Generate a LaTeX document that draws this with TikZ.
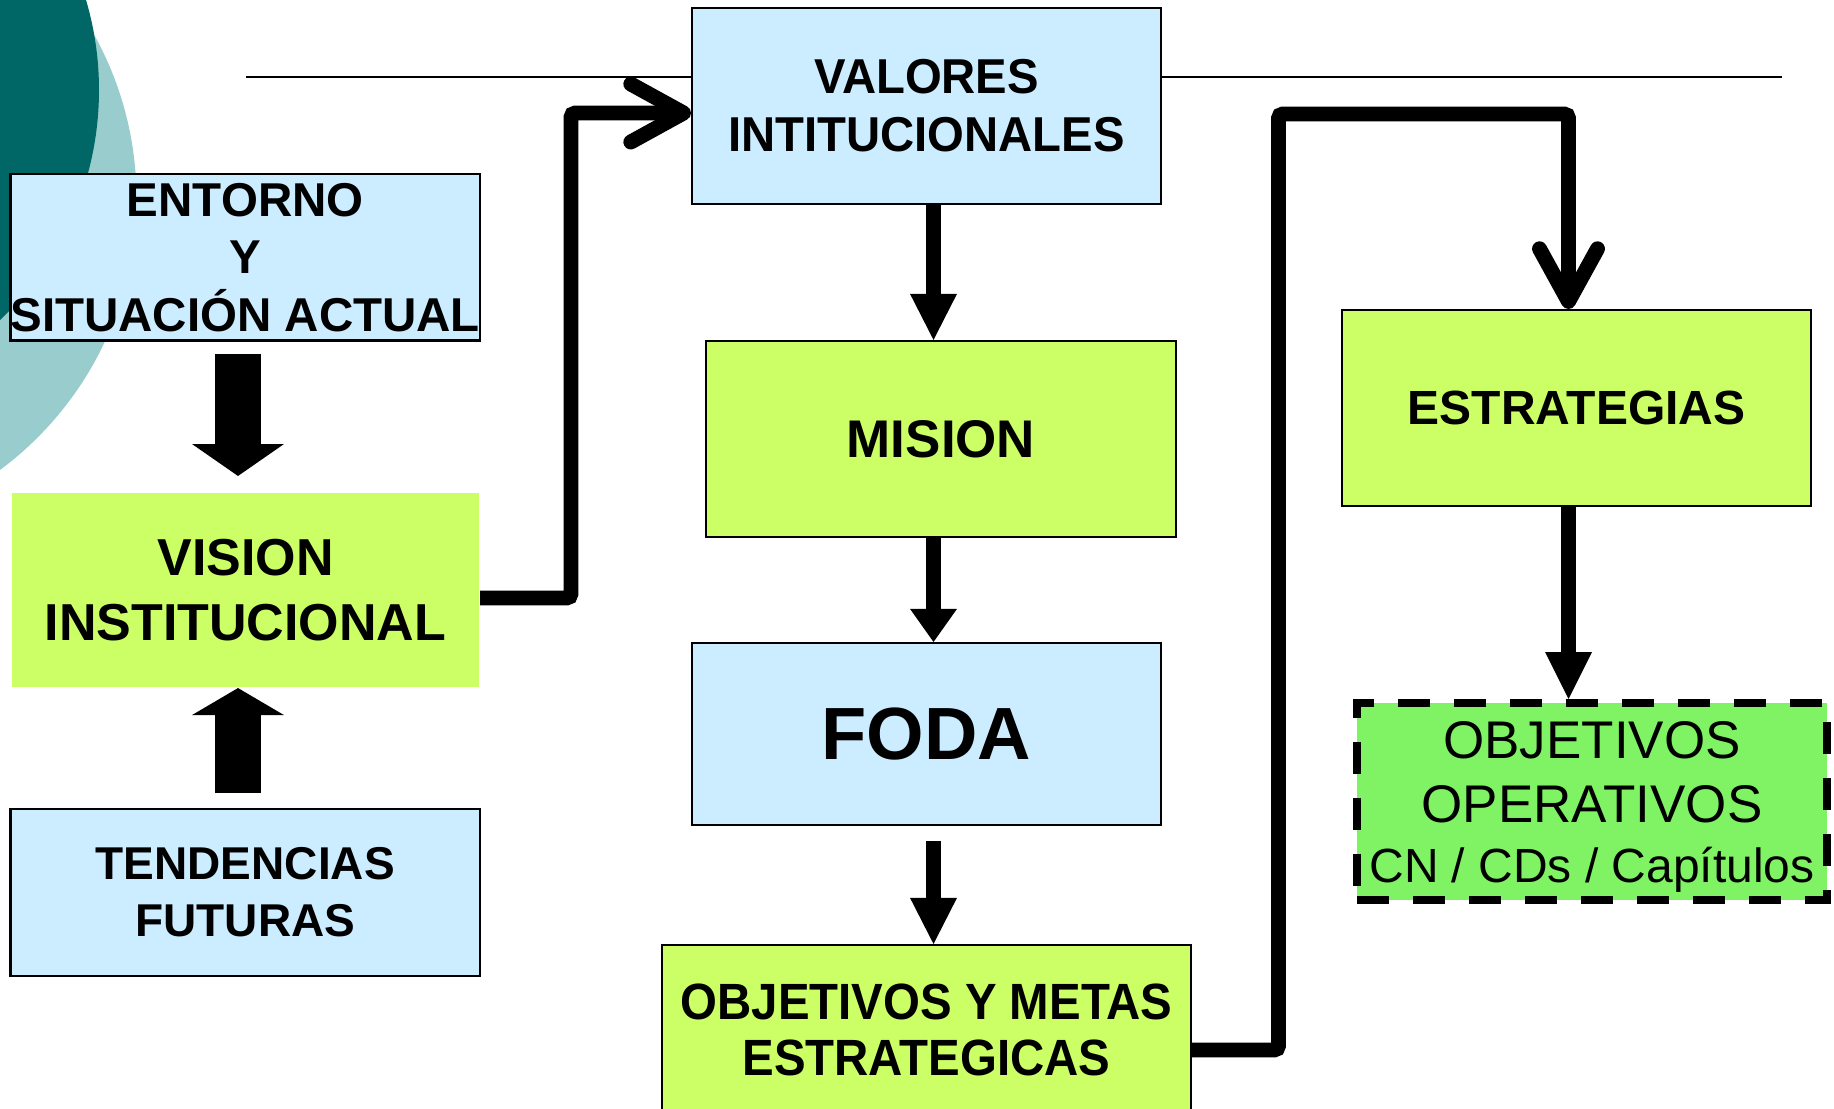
\documentclass[tikz,border=0pt]{standalone}
\usepackage{fontspec}
\setmainfont{Liberation Sans}
\newfontfamily\narrowA[FakeStretch=0.965]{Liberation Sans}
\newfontfamily\narrowB[FakeStretch=0.93]{Liberation Sans}
\usetikzlibrary{arrows.meta}
\definecolor{boxblue}{RGB}{204,236,255}
\definecolor{boxgreen}{RGB}{204,255,102}
\definecolor{opgreen}{RGB}{128,243,100}
\definecolor{tealdark}{RGB}{0,102,102}
\definecolor{teallight}{RGB}{153,204,204}
\begin{document}
\begin{tikzpicture}[x=0.02cm, y=-0.02cm,
  box/.style={rectangle, inner sep=0pt, align=center, draw=black, line width=1.2pt},
  bluebox/.style={box, fill=boxblue},
  greenbox/.style={box, fill=boxgreen},
  opbox/.style={rectangle, inner sep=0pt, align=center, draw=black, line width=4.55pt,
     dash pattern=on 18.2pt off 13.66pt, fill=opgreen},
  blockarrow/.style={line width=26.7pt, -{Triangle[width=52.4pt,length=#1,line width=0pt]}},
  solidarrow/.style={line width=8.5pt, -{Triangle[width=26.7pt,length=#1,line width=0pt]}},
  elbowarrow/.style={line width=8.5pt, rounded corners=2.5pt, -{Straight Barb[length=30pt,width=33pt,round]}}
]
\useasboundingbox (0,0) rectangle (1834,1108);
\clip (0,0) rectangle (1834,1108);

% background circles
\fill[teallight] (-201.3,198.7) circle[radius=337.8];
\fill[tealdark] (-217.7,90) circle[radius=316.7];

% header rule
\draw[line width=1.7pt] (246,77) -- (1782,77);

% boxes
\node[bluebox, minimum width=9.39cm, minimum height=3.33cm,
      font=\fontsize{27.03pt}{32.72pt}\selectfont\bfseries]
  (entorno) at (245.25,257.25) {ENTORNO\\Y\\SITUACIÓN ACTUAL};
\node[greenbox, draw=none, minimum width=9.34cm, minimum height=3.88cm,
      font=\fontsize{29.59pt}{36.99pt}\selectfont\bfseries]
  (vision) at (245.5,590) {VISION\\INSTITUCIONAL};
\node[bluebox, minimum width=9.39cm, minimum height=3.34cm,
      font=\fontsize{26.18pt}{32.44pt}\selectfont\bfseries]
  (tendencias) at (245.25,892.5) {TENDENCIAS\\FUTURAS};
\node[bluebox, minimum width=9.38cm, minimum height=3.92cm,
      font=\narrowA\fontsize{27.88pt}{33pt}\selectfont\bfseries]
  (valores) at (926.5,106) {VALORES\\INTITUCIONALES};
\node[greenbox, minimum width=9.40cm, minimum height=3.92cm,
      font=\fontsize{30.16pt}{36pt}\selectfont\bfseries]
  (mision) at (941,439) {MISION};
\node[bluebox, minimum width=9.38cm, minimum height=3.64cm,
      font=\fontsize{42.11pt}{50pt}\selectfont\bfseries]
  (foda) at (926.5,734) {FODA};
\node[greenbox, minimum width=10.58cm, minimum height=3.40cm,
      font=\narrowB\fontsize{29.02pt}{31.87pt}\selectfont\bfseries]
  (objmetas) at (926.5,1030) {OBJETIVOS Y METAS\\ESTRATEGICAS};
\node[greenbox, minimum width=9.38cm, minimum height=3.92cm,
      font=\fontsize{27.31pt}{33pt}\selectfont\bfseries]
  (estrategias) at (1576.5,408) {ESTRATEGIAS};
\node[opbox, minimum width=9.40cm, minimum height=3.94cm, text depth=0pt,
      font=\fontsize{30.16pt}{36.99pt}\selectfont]
  (objop) at (1592,801.5) {OBJETIVOS\\OPERATIVOS\\[-3.4pt]{\fontsize{27.31pt}{33pt}\selectfont CN / CDs / Capítulos}};

% helper coordinates
\coordinate (xa) at (238,0);
\coordinate (xm) at (933.5,0);
\coordinate (xs) at (1568.5,0);
\coordinate (v1) at (571,598);
\coordinate (v2) at (571,113);
\coordinate (o1) at (1278.5,1050);
\coordinate (o2) at (1278.5,114);
\coordinate (o3) at (1568.5,114);

% block arrows
\draw[blockarrow=18.2pt, shorten <=7.1pt, shorten >=9.1pt] (entorno.south -| xa) -- (vision.north -| xa);
\draw[blockarrow=15.4pt, shorten <=8.5pt] (tendencias.north -| xa) -- (vision.south -| xa);

% straight arrows
\draw[solidarrow=26.2pt] (valores.south -| xm) -- (mision.north -| xm);
\draw[solidarrow=18.8pt] (mision.south -| xm) -- (foda.north -| xm);
\draw[solidarrow=26.2pt, shorten <=8.5pt] (foda.south -| xm) -- (objmetas.north -| xm);
\draw[solidarrow=26.7pt] (estrategias.south -| xs) -- (objop.north -| xs);

% elbow arrows
\draw[elbowarrow] (vision.east |- v1) -- (v1) -- (v2) -- (valores.west |- v2);
\draw[elbowarrow] (objmetas.east |- o1) -- (o1) -- (o2) -- (o3) -- (estrategias.north -| o3);
\end{tikzpicture}
\end{document}
